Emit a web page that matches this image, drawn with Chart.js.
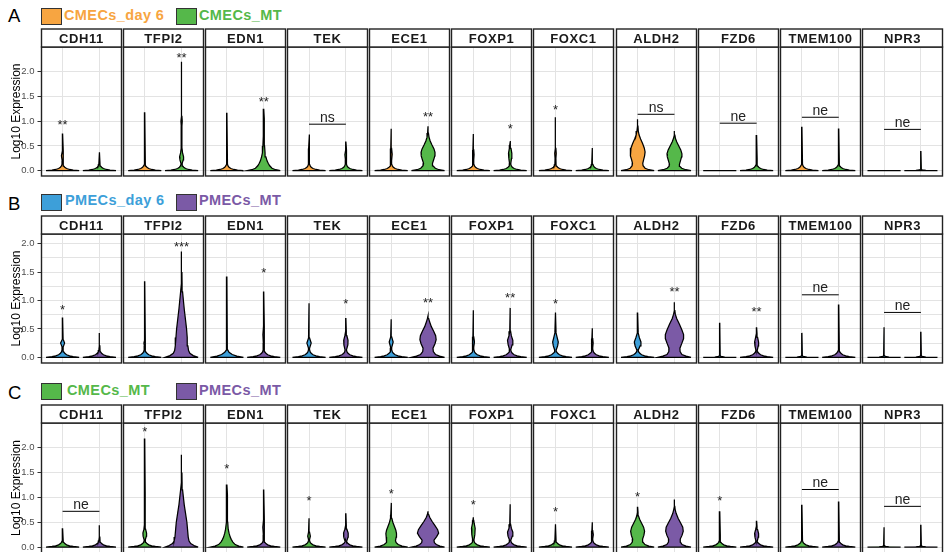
<!DOCTYPE html>
<html>
<head>
<meta charset="utf-8">
<script src="https://cdn.jsdelivr.net/npm/chart.js@4.4.1/dist/chart.umd.min.js"></script>
<style>
  body { margin: 0; width: 945px; height: 552px; overflow: hidden; background: #fff; position: relative;
         font-family: "Liberation Sans", Arial, sans-serif; }
  canvas { position: absolute; left: 0; }
  .tag { position: absolute; left: 8px; font-size: 18.5px; line-height: 1; color: #000; }
  .sw { position: absolute; width: 19px; height: 15px; border: 1px solid #333; }
  .lab { position: absolute; font-weight: bold; font-size: 14.5px; line-height: 1; letter-spacing: 0.4px; white-space: nowrap; }
</style>
</head>
<body>
<canvas id="rowA" width="945" height="150" style="top:28px"></canvas>
<canvas id="rowB" width="945" height="150" style="top:215px"></canvas>
<canvas id="rowC" width="945" height="151" style="top:404px"></canvas>
<script>
// gene facets, same for every row
const genes = ['CDH11', 'TFPI2', 'EDN1', 'TEK', 'ECE1', 'FOXP1', 'FOXC1', 'ALDH2', 'FZD6', 'TMEM100', 'NPR3'];
const yTicks = [0, 0.25, 0.5, 0.75, 1, 1.25, 1.5, 1.75, 2, 2.25, 2.5];
const yLabelMax = 2;

const colOrange = '#F7A541';
const colGreen = '#55B84A';
const colBlue = '#3D9FD9';
const colPurple = '#7B5AA6';

// bottom of a violin where most cells are 0: [height, relative half width]
const spike = [[0, 1], [0.012, 0.64], [0.025, 0.42], [0.045, 0.24], [0.07, 0.13], [0.095, 0.07], [0.13, 0.035]];
// profiles that do not start at 0 sit on top of the spike; the last point is the max value
const cmecDay6 = [
  [[0.2, 0.025], [0.3, 0.07], [0.4, 0.025], [0.75, 0]],
  [[1.18, 0]],
  [[1.17, 0]],
  [[0.25, 0.025], [0.35, 0.05], [0.45, 0.025], [0.73, 0]],
  [[0.2, 0.025], [0.33, 0.06], [0.45, 0.025], [0.85, 0]],
  [[0.22, 0.025], [0.32, 0.045], [0.42, 0.025], [0.74, 0]],
  [[0.25, 0.025], [0.35, 0.045], [0.45, 0.025], [1.08, 0]],
  [[0, 1], [0.02, 0.68], [0.05, 0.45], [0.1, 0.33], [0.15, 0.31], [0.22, 0.36], [0.3, 0.42], [0.38, 0.45], [0.46, 0.4], [0.55, 0.3], [0.64, 0.18], [0.72, 0.09], [0.8, 0.04], [0.9, 0.02], [1.04, 0]],
  [[0, 1], [0.004, 0]],
  [[0.89, 0]],
  [[0, 1], [0.004, 0]]
];
const cmecMT_A = [
  [[0.37, 0]],
  [[0.15, 0.04], [0.22, 0.1], [0.28, 0.12], [0.36, 0.06], [0.45, 0.025], [0.9, 0.02], [1.0, 0.04], [1.1, 0.02], [2.2, 0]],
  [[0, 1], [0.02, 0.72], [0.05, 0.5], [0.1, 0.36], [0.15, 0.27], [0.2, 0.2], [0.28, 0.13], [0.36, 0.08], [0.5, 0.05], [0.7, 0.04], [0.9, 0.035], [1.05, 0.025], [1.25, 0]],
  [[0.22, 0.025], [0.32, 0.06], [0.42, 0.025], [0.59, 0]],
  [[0, 1], [0.02, 0.66], [0.05, 0.44], [0.1, 0.3], [0.15, 0.27], [0.22, 0.34], [0.3, 0.41], [0.37, 0.42], [0.44, 0.36], [0.52, 0.24], [0.6, 0.13], [0.68, 0.06], [0.76, 0.025], [0.9, 0]],
  [[0.15, 0.04], [0.25, 0.08], [0.35, 0.1], [0.45, 0.05], [0.52, 0.025], [0.6, 0]],
  [[0.46, 0]],
  [[0, 1], [0.02, 0.68], [0.05, 0.44], [0.09, 0.32], [0.13, 0.3], [0.2, 0.36], [0.28, 0.43], [0.34, 0.45], [0.42, 0.38], [0.5, 0.26], [0.58, 0.14], [0.65, 0.06], [0.72, 0.025], [0.8, 0]],
  [[0.15, 0.035], [0.25, 0.025], [0.72, 0]],
  [[0.855, 0]],
  [[0, 1], [0.005, 0.3], [0.015, 0.08], [0.03, 0.025], [0.4, 0]]
];
const pmecDay6 = [
  [[0.18, 0.03], [0.25, 0.12], [0.32, 0.03], [0.7, 0]],
  [[0.2, 0.025], [0.25, 0.05], [0.3, 0.025], [1.34, 0]],
  [[0, 1], [0.02, 0.6], [0.05, 0.32], [0.09, 0.13], [0.13, 0.05], [0.18, 0.025], [1.42, 0]],
  [[0.16, 0.03], [0.25, 0.13], [0.34, 0.03], [0.95, 0]],
  [[0.17, 0.03], [0.27, 0.12], [0.36, 0.03], [0.67, 0]],
  [[0.18, 0.025], [0.27, 0.07], [0.36, 0.025], [0.83, 0]],
  [[0.13, 0.05], [0.2, 0.13], [0.27, 0.17], [0.35, 0.1], [0.43, 0.035], [0.79, 0]],
  [[0.13, 0.05], [0.2, 0.15], [0.27, 0.2], [0.35, 0.1], [0.43, 0.035], [0.79, 0]],
  [[0, 1], [0.005, 0.3], [0.015, 0.08], [0.03, 0.025], [0.61, 0]],
  [[0, 1], [0.005, 0.3], [0.015, 0.08], [0.03, 0.025], [0.43, 0]],
  [[0, 1], [0.005, 0.3], [0.015, 0.08], [0.03, 0.025], [0.53, 0]]
];
const pmecMT_B = [
  [[0.2, 0.025], [0.43, 0]],
  [[0, 1], [0.03, 0.7], [0.07, 0.5], [0.12, 0.42], [0.2, 0.38], [0.35, 0.34], [0.5, 0.3], [0.7, 0.22], [0.85, 0.16], [1.0, 0.11], [1.15, 0.06], [1.3, 0.03], [1.5, 0.02], [1.86, 0]],
  [[0.25, 0.025], [0.4, 0.05], [0.55, 0.025], [1.16, 0]],
  [[0.13, 0.05], [0.22, 0.12], [0.3, 0.13], [0.38, 0.06], [0.46, 0.025], [0.69, 0]],
  [[0, 1], [0.02, 0.7], [0.05, 0.45], [0.1, 0.32], [0.16, 0.3], [0.24, 0.42], [0.31, 0.49], [0.38, 0.46], [0.46, 0.34], [0.54, 0.2], [0.62, 0.1], [0.68, 0.04], [0.73, 0]],
  [[0.14, 0.04], [0.22, 0.12], [0.3, 0.16], [0.38, 0.07], [0.46, 0.025], [0.87, 0]],
  [[0.17, 0.025], [0.25, 0.05], [0.33, 0.025], [0.51, 0]],
  [[0, 1], [0.02, 0.7], [0.05, 0.45], [0.1, 0.34], [0.16, 0.33], [0.25, 0.45], [0.33, 0.55], [0.4, 0.55], [0.48, 0.45], [0.58, 0.3], [0.68, 0.14], [0.76, 0.05], [0.82, 0.025], [0.97, 0]],
  [[0.12, 0.04], [0.2, 0.1], [0.27, 0.12], [0.35, 0.06], [0.42, 0.025], [0.53, 0]],
  [[0.93, 0]],
  [[0, 1], [0.005, 0.3], [0.015, 0.08], [0.03, 0.025], [0.45, 0]]
];
const cmecMT_C = [
  [[0.38, 0]],
  [[0.15, 0.04], [0.22, 0.1], [0.28, 0.11], [0.36, 0.05], [0.45, 0.025], [0.9, 0.02], [1.0, 0.04], [1.1, 0.02], [2.19, 0]],
  [[0, 1], [0.02, 0.72], [0.05, 0.5], [0.1, 0.36], [0.15, 0.27], [0.2, 0.2], [0.28, 0.13], [0.36, 0.08], [0.5, 0.05], [0.7, 0.04], [0.9, 0.035], [1.05, 0.025], [1.26, 0]],
  [[0.15, 0.03], [0.22, 0.08], [0.3, 0.03], [0.58, 0]],
  [[0, 1], [0.02, 0.66], [0.05, 0.42], [0.09, 0.3], [0.13, 0.26], [0.2, 0.3], [0.27, 0.32], [0.34, 0.28], [0.42, 0.19], [0.5, 0.1], [0.58, 0.04], [0.65, 0.025], [0.89, 0]],
  [[0.15, 0.04], [0.25, 0.09], [0.38, 0.11], [0.48, 0.05], [0.54, 0.025], [0.6, 0]],
  [[0.46, 0]],
  [[0, 1], [0.02, 0.68], [0.05, 0.44], [0.1, 0.32], [0.16, 0.3], [0.24, 0.38], [0.32, 0.42], [0.4, 0.36], [0.48, 0.24], [0.56, 0.12], [0.63, 0.05], [0.7, 0.025], [0.81, 0]],
  [[0.15, 0.035], [0.25, 0.025], [0.72, 0]],
  [[0.85, 0]],
  [[0, 1], [0.005, 0.3], [0.015, 0.08], [0.03, 0.025], [0.4, 0]]
];
const pmecMT_C = [
  [[0.2, 0.025], [0.44, 0]],
  [[0, 1], [0.03, 0.75], [0.07, 0.55], [0.12, 0.45], [0.2, 0.4], [0.35, 0.36], [0.5, 0.32], [0.7, 0.23], [0.85, 0.16], [1.0, 0.11], [1.15, 0.06], [1.3, 0.03], [1.5, 0.02], [1.86, 0]],
  [[0.25, 0.025], [0.4, 0.055], [0.55, 0.025], [1.16, 0]],
  [[0.12, 0.05], [0.2, 0.13], [0.28, 0.14], [0.36, 0.06], [0.44, 0.025], [0.68, 0]],
  [[0, 1], [0.02, 0.72], [0.05, 0.5], [0.09, 0.38], [0.14, 0.36], [0.21, 0.52], [0.28, 0.64], [0.35, 0.58], [0.43, 0.42], [0.52, 0.24], [0.6, 0.1], [0.66, 0.035], [0.72, 0]],
  [[0.14, 0.04], [0.22, 0.13], [0.3, 0.16], [0.38, 0.07], [0.46, 0.025], [0.86, 0]],
  [[0.17, 0.025], [0.25, 0.06], [0.33, 0.025], [0.5, 0]],
  [[0, 1], [0.02, 0.7], [0.05, 0.46], [0.1, 0.36], [0.16, 0.35], [0.24, 0.46], [0.32, 0.53], [0.4, 0.5], [0.48, 0.38], [0.58, 0.22], [0.68, 0.1], [0.76, 0.04], [0.82, 0.02], [0.96, 0]],
  [[0.12, 0.04], [0.2, 0.1], [0.27, 0.12], [0.35, 0.06], [0.42, 0.025], [0.53, 0]],
  [[0.92, 0]],
  [[0, 1], [0.005, 0.3], [0.015, 0.08], [0.03, 0.025], [0.45, 0]]
];

// significance labels: position 1 / 2 = over that violin, 0 = bracket over both
const sigA = ['**', '**', '**', 'ns', '**', '*', '*', 'ns', 'ne', 'ne', 'ne'];
const sigPosA = [1, 2, 2, 0, 2, 2, 1, 0, 0, 0, 0];
const sigYA = [1.0, 2.34, 1.46, 0.94, 1.16, 0.91, 1.29, 1.14, 0.96, 1.08, 0.835];
const sigB = ['*', '***', '*', '*', '**', '**', '*', '**', '**', 'ne', 'ne'];
const sigPosB = [1, 2, 2, 2, 2, 2, 1, 2, 2, 0, 0];
const sigYB = [0.89, 2.0, 1.54, 1.0, 1.01, 1.11, 1.0, 1.21, 0.86, 1.10, 0.79];
const sigC = ['ne', '*', '*', '*', '*', '*', '*', '*', '*', 'ne', 'ne'];
const sigPosC = [0, 1, 1, 1, 1, 1, 1, 1, 1, 0, 0];
const sigYC = [0.72, 2.39, 1.65, 0.99, 1.14, 0.92, 0.78, 1.07, 0.99, 1.16, 0.82];

const rows = [
  { id: 'rowA', tag: 'A', keys: ['CMECs_day 6', 'CMECs_MT'], colors: [colOrange, colGreen],
    left: cmecDay6, right: cmecMT_A, sig: sigA, sigPos: sigPosA, sigY: sigYA, yMin: -0.107, yMax: 2.5,
    tagTop: 6.5, keyTop: 8, textTop: 8.4, textLeft: [64, 199] },
  { id: 'rowB', tag: 'B', keys: ['PMECs_day 6', 'PMECs_MT'], colors: [colBlue, colPurple],
    left: pmecDay6, right: pmecMT_B, sig: sigB, sigPos: sigPosB, sigY: sigYB, yMin: -0.1, yMax: 2.17,
    tagTop: 194.8, keyTop: 194, textTop: 193.4, textLeft: [65, 199] },
  { id: 'rowC', tag: 'C', keys: ['CMECs_MT', 'PMECs_MT'], colors: [colGreen, colPurple],
    left: cmecMT_C, right: pmecMT_C, sig: sigC, sigPos: sigPosC, sigY: sigYC, yMin: -0.12, yMax: 2.5,
    tagTop: 383.5, keyTop: 383, textTop: 383, textLeft: [67, 199] }
];

const PANEL = 2.2;   // one facet = two violins at 0.6 and 1.6
const GAP = 0.03;
const HALF = 0.45;   // max half width of a violin
function panelStart(i) { return i * (PANEL + GAP); }
const XMAX = panelStart(genes.length) - GAP;

function violinPoints(profile, cx) {
  const prof = profile[0][0] === 0 ? profile : spike.concat(profile);
  const right = prof.map(p => ({ x: cx + p[1] * HALF, y: p[0] }));
  const left = prof.slice().reverse().map(p => ({ x: cx - p[1] * HALF, y: p[0] }));
  return right.concat(left, [right[0]]);
}

function isMajor(v) { return Math.round(v * 100) % 50 === 0 && v <= yLabelMax; }

// strips, panel frames and p-value marks
function facetPlugin(row) {
  return {
    id: 'facets',
    afterDraw(chart) {
      const { ctx, chartArea: a, scales: { x, y } } = chart;
      ctx.save();
      ctx.fillStyle = '#222';
      ctx.textAlign = 'center';
      genes.forEach((g, i) => {
        const pos = row.sigPos[i];
        const cx = x.getPixelForValue(panelStart(i) + (pos === 0 ? 1.1 : pos - 0.4));
        const py = y.getPixelForValue(row.sigY[i]);
        if (pos === 0) {
          ctx.font = '14px "Liberation Sans", Arial';
          ctx.fillText(row.sig[i], cx, py - 2.5);
        } else {
          ctx.font = '13px "Liberation Sans", Arial';
          ctx.fillText(row.sig[i], cx, py + 7.4);
        }
      });
      genes.forEach((g, i) => {
        const x0 = Math.round(x.getPixelForValue(panelStart(i))) + 0.5;
        const x1 = Math.round(x.getPixelForValue(panelStart(i) + PANEL)) - 0.5;
        ctx.strokeStyle = '#222';
        ctx.lineWidth = 1.4;
        ctx.strokeRect(x0, a.top, x1 - x0, a.bottom - a.top);
        ctx.fillStyle = '#fff';
        ctx.fillRect(x0, a.top - 18, x1 - x0, 18);
        ctx.strokeRect(x0, a.top - 18, x1 - x0, 18);
        ctx.fillStyle = '#1a1a1a';
        ctx.font = 'bold 13px "Liberation Sans", Arial';
        ctx.letterSpacing = '0.6px';
        ctx.textBaseline = 'alphabetic';
        ctx.fillText(g, (x0 + x1) / 2, a.top - 4.3);
        ctx.letterSpacing = '0px';
      });
      ctx.restore();
    }
  };
}

rows.forEach(row => {
  // row letter and key
  const tag = document.createElement('div');
  tag.className = 'tag';
  tag.style.top = row.tagTop + 'px';
  tag.textContent = row.tag;
  document.body.appendChild(tag);
  row.keys.forEach((k, j) => {
    const sw = document.createElement('div');
    sw.className = 'sw';
    sw.style.left = (j === 0 ? 41 : 176) + 'px';
    sw.style.top = row.keyTop + 'px';
    sw.style.background = row.colors[j];
    document.body.appendChild(sw);
    const lab = document.createElement('div');
    lab.className = 'lab';
    lab.style.left = row.textLeft[j] + 'px';
    lab.style.top = row.textTop + 'px';
    lab.style.color = row.colors[j];
    lab.textContent = k;
    document.body.appendChild(lab);
  });

  const datasets = [];
  const centers = [];
  genes.forEach((g, i) => {
    [row.left, row.right].forEach((group, k) => {
      const cx = panelStart(i) + 0.6 + k;
      centers.push(cx);
      datasets.push({
        data: violinPoints(group[i], cx),
        showLine: true,
        fill: 'shape',
        backgroundColor: row.colors[k],
        borderColor: '#000',
        borderWidth: 1.25,
        pointRadius: 0,
        tension: 0
      });
    });
    if (row.sigPos[i] === 0) {
      datasets.push({
        data: [{ x: panelStart(i) + 0.6, y: row.sigY[i] }, { x: panelStart(i) + 1.6, y: row.sigY[i] }],
        showLine: true,
        fill: false,
        borderColor: '#000',
        borderWidth: 1,
        pointRadius: 0
      });
    }
  });

  new Chart(document.getElementById(row.id), {
    type: 'scatter',
    data: { datasets: datasets },
    options: {
      responsive: false,
      animation: false,
      events: [],
      devicePixelRatio: 1,
      layout: { padding: { top: 19, right: 2, bottom: 2, left: 0 } },
      plugins: { legend: { display: false }, tooltip: { enabled: false } },
      scales: {
        x: {
          type: 'linear', min: 0, max: XMAX,
          ticks: { display: false },
          grid: { drawTicks: false, color: '#e3e3e3', lineWidth: 1 },
          border: { display: false },
          afterBuildTicks: s => { s.ticks = centers.map(v => ({ value: v })); },
          afterFit: s => { s.height = 0; s.paddingLeft = 0; s.paddingRight = 0; }
        },
        y: {
          type: 'linear', min: row.yMin, max: row.yMax,
          afterBuildTicks: s => { s.ticks = yTicks.filter(v => v <= row.yMax).map(v => ({ value: v })); },
          afterFit: s => { s.width = 40.5; s.paddingTop = 0; s.paddingBottom = 0; },
          ticks: {
            padding: 3,
            color: '#4d4d4d',
            font: { family: '"Liberation Sans", Arial', size: 9.5 },
            callback: v => (isMajor(v) ? v.toFixed(1) : '')
          },
          grid: {
            color: '#e3e3e3',
            lineWidth: 1,
            tickLength: 3,
            tickColor: c => (isMajor(c.tick.value) ? '#333' : 'rgba(0,0,0,0)')
          },
          border: { display: false },
          title: {
            display: true,
            text: 'Log10 Expression',
            color: '#000',
            font: { family: '"Liberation Sans", Arial', size: 12 },
            padding: { top: 9, bottom: 0 }
          }
        }
      }
    },
    plugins: [facetPlugin(row)]
  });
});
</script>
</body>
</html>
